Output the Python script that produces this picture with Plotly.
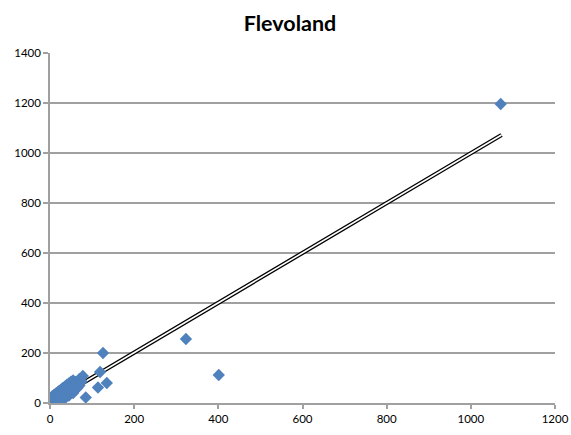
import plotly.graph_objects as go

# Scatter data (x, y)
x_vals = [0, 0, 0, 5, 5, 5, 10, 10, 10, 15, 15, 15, 20, 20, 20, 25, 25, 25,
          30, 30, 30, 35, 35, 35, 40, 40, 40, 45, 45, 45, 50, 50, 50, 55, 55, 55,
          25, 35, 45, 55, 60, 65, 70,
          38, 60, 66, 70, 75, 78, 85, 114, 119, 126, 135, 323, 401, 1071]
y_vals = [0, 8, 20, 0, 14, 26, 2, 21, 33, 8, 27, 39, 16, 34, 46, 22, 40, 52,
          29, 47, 59, 36, 53, 65, 42, 60, 72, 49, 66, 78, 55, 73, 85, 62, 80, 90,
          10, 18, 30, 40, 55, 60, 70,
          32, 84, 80, 96, 86, 108, 22, 62, 124, 200, 80, 256, 112, 1196]

# Linear trendline endpoints
trend_x = [0, 1073]
trend_y = [2, 1072]

x_ticks = [0, 200, 400, 600, 800, 1000, 1200]
y_ticks = [0, 200, 400, 600, 800, 1000, 1200, 1400]

fig = go.Figure()
fig.add_trace(go.Scatter(x=trend_x, y=trend_y, mode="lines",
                         line=dict(color="black", width=4.2),
                         showlegend=False, hoverinfo="skip"))
fig.add_trace(go.Scatter(x=trend_x, y=trend_y, mode="lines",
                         line=dict(color="white", width=1.6),
                         showlegend=False, hoverinfo="skip"))
fig.add_trace(go.Scatter(x=x_vals, y=y_vals, mode="markers",
                         marker=dict(symbol="diamond", size=9.5, color="#4F81BD",
                                     line=dict(width=0)),
                         showlegend=False, hoverinfo="skip"))

axis_gray = "#A0A0A0"
fig.update_layout(
    width=571, height=435,
    margin=dict(l=50, r=16, t=53, b=32),
    paper_bgcolor="white", plot_bgcolor="white",
    font=dict(family="Lato", size=11.5, color="black"),
    title=dict(text="<b>Flevoland</b>", x=290/571, xref="container", xanchor="center",
               y=1-23/435, yref="container", yanchor="middle", automargin=False,
               font=dict(family="Lato", size=21.5, color="black")),
    xaxis=dict(range=[0, 1200], tickvals=x_ticks, showgrid=False, zeroline=False,
               automargin=False,
               showline=True, linecolor=axis_gray, linewidth=1.5,
               ticks="outside", ticklen=4, tickcolor=axis_gray, tickwidth=1.5),
    yaxis=dict(range=[0, 1400], tickvals=y_ticks, showgrid=True, gridcolor=axis_gray,
               gridwidth=1.6, zeroline=False, automargin=False,
               showline=True, linecolor=axis_gray, linewidth=1.5,
               ticks="outside", ticklen=5, tickcolor=axis_gray, tickwidth=1.5),
)

# remove the default 8px page margin so the figure fills the window exactly
fig.write_html("out.html", config={"displayModeBar": False},
               post_script="document.body.style.margin='0';document.body.style.overflow='hidden';")
